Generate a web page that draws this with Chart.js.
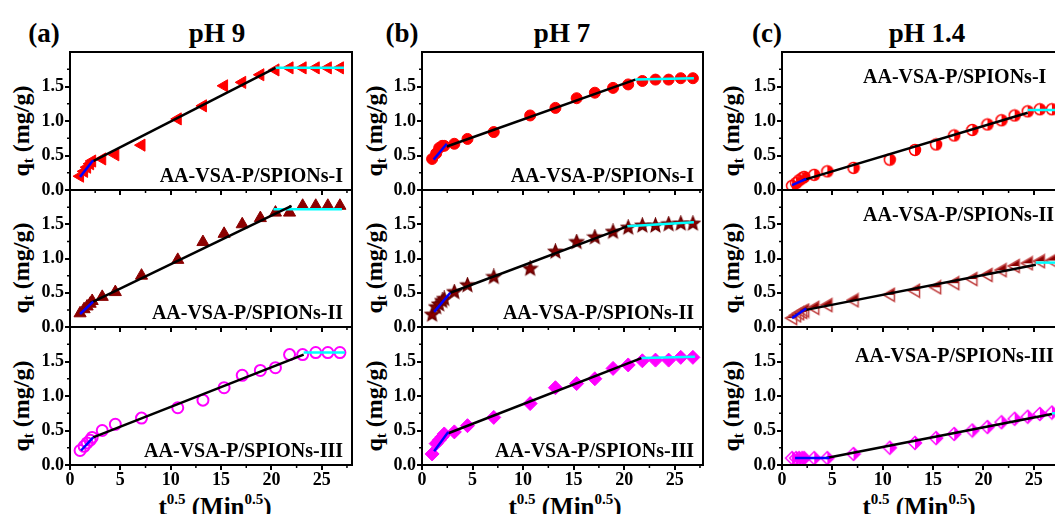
<!DOCTYPE html>
<html>
<head>
<meta charset="utf-8">
<script src="https://cdn.jsdelivr.net/npm/chart.js@4.4.0/dist/chart.umd.min.js"></script>
<style>
  html, body { margin: 0; padding: 0; background: #fff; }
  body { width: 1055px; height: 514px; overflow: hidden; position: relative; }
  canvas { position: absolute; }
  .t { position: absolute; font-family: "Liberation Serif", "Times New Roman", serif; font-weight: bold;
       color: #000; white-space: nowrap; }
  .title { font-size: 27px; line-height: 27px; top: 20px; transform: translateX(-50%); }
  .lab { font-size: 20px; line-height: 20px; }
  .ytitle { font-size: 24px; line-height: 24px; transform: translate(-50%, -50%) rotate(-90deg); }
  .ytitle sub { font-size: 15px; line-height: 0; vertical-align: -4px; }
  .xtitle { font-size: 25px; line-height: 25px; top: 494px; transform: translateX(-50%); }
  .xtitle sup { font-size: 15px; line-height: 0; vertical-align: 11px; }
</style>
</head>
<body>

<div class="t title" style="left:44px">(a)</div>
<div class="t title" style="left:217px">pH 9</div>
<div class="t title" style="left:402px">(b)</div>
<div class="t title" style="left:562px">pH 7</div>
<div class="t title" style="left:767px">(c)</div>
<div class="t title" style="left:927px">pH 1.4</div>

<div class="t ytitle" style="left:21px;top:131px">q<sub>t</sub> (mg/g)</div>
<div class="t ytitle" style="left:21px;top:268px">q<sub>t</sub> (mg/g)</div>
<div class="t ytitle" style="left:21px;top:406px">q<sub>t</sub> (mg/g)</div>
<div class="t ytitle" style="left:374px;top:131px">q<sub>t</sub> (mg/g)</div>
<div class="t ytitle" style="left:374px;top:268px">q<sub>t</sub> (mg/g)</div>
<div class="t ytitle" style="left:374px;top:406px">q<sub>t</sub> (mg/g)</div>
<div class="t ytitle" style="left:731px;top:131px">q<sub>t</sub> (mg/g)</div>
<div class="t ytitle" style="left:731px;top:268px">q<sub>t</sub> (mg/g)</div>
<div class="t ytitle" style="left:731px;top:406px">q<sub>t</sub> (mg/g)</div>

<div class="t xtitle" style="left:215px">t<sup>0.5</sup> (Min<sup>0.5</sup>)</div>
<div class="t xtitle" style="left:565px">t<sup>0.5</sup> (Min<sup>0.5</sup>)</div>
<div class="t xtitle" style="left:919px">t<sup>0.5</sup> (Min<sup>0.5</sup>)</div>

<script>
// square root of contact time, same sampling for every run
const sqrtT = [1.0, 1.4, 1.7, 2.0, 2.2, 3.2, 4.5, 7.1, 10.7, 13.2, 15.3, 17.1, 18.9, 20.4, 21.8, 23.1, 24.4, 25.6, 26.8];

// qt (mg/g) — (a) pH 9
const qA1 = [0.20, 0.27, 0.33, 0.38, 0.42, 0.45, 0.51, 0.65, 1.03, 1.22, 1.51, 1.56, 1.67, 1.74, 1.77, 1.77, 1.77, 1.77, 1.77];
const qA2 = [0.20, 0.26, 0.30, 0.34, 0.38, 0.44, 0.51, 0.75, 0.98, 1.24, 1.36, 1.50, 1.59, 1.67, 1.67, 1.77, 1.77, 1.77, 1.77];
const qA3 = [0.21, 0.27, 0.32, 0.36, 0.40, 0.50, 0.59, 0.68, 0.83, 0.94, 1.12, 1.30, 1.37, 1.41, 1.60, 1.60, 1.63, 1.63, 1.63];
// (b) pH 7
const qB1 = [0.45, 0.53, 0.61, 0.64, 0.64, 0.67, 0.74, 0.84, 1.08, 1.19, 1.33, 1.41, 1.48, 1.53, 1.58, 1.60, 1.60, 1.62, 1.62];
const qB2 = [0.18, 0.29, 0.33, 0.38, 0.41, 0.51, 0.61, 0.73, 0.85, 1.10, 1.24, 1.31, 1.39, 1.45, 1.48, 1.48, 1.50, 1.51, 1.51];
const qB3 = [0.16, 0.31, 0.36, 0.41, 0.45, 0.48, 0.57, 0.69, 0.89, 1.12, 1.18, 1.25, 1.40, 1.45, 1.51, 1.52, 1.52, 1.56, 1.56];
// (c) pH 1.4
const qC1 = [0.06, 0.10, 0.14, 0.17, 0.19, 0.22, 0.27, 0.32, 0.44, 0.58, 0.66, 0.79, 0.87, 0.95, 1.01, 1.08, 1.14, 1.17, 1.17];
const qC2 = [0.13, 0.17, 0.20, 0.22, 0.24, 0.28, 0.32, 0.39, 0.47, 0.53, 0.58, 0.64, 0.70, 0.76, 0.83, 0.89, 0.93, 0.96, 0.97];
const qC3 = [0.10, 0.10, 0.10, 0.10, 0.10, 0.10, 0.10, 0.16, 0.25, 0.32, 0.39, 0.45, 0.50, 0.55, 0.62, 0.67, 0.70, 0.74, 0.76];

// intra-particle diffusion fits: stage 1 (blue), stage 2 (black), stage 3 (cyan)
const fitA1 = [[[1.0, 0.19], [2.3, 0.43]], [[2.3, 0.42], [20.4, 1.77]], [[20.4, 1.77], [27.2, 1.77]]];
const fitA2 = [[[1.0, 0.19], [2.3, 0.37]], [[2.0, 0.35], [22.0, 1.77]], [[20.2, 1.72], [27.0, 1.72]]];
const fitA3 = [[[1.1, 0.21], [2.3, 0.40]], [[2.3, 0.40], [23.2, 1.60]], [[23.2, 1.63], [27.3, 1.63]]];
const fitB1 = [[[1.15, 0.44], [2.45, 0.67]], [[2.45, 0.63], [21.1, 1.60]], [[21.1, 1.60], [26.9, 1.62]]];
const fitB2 = [[[1.2, 0.22], [2.8, 0.50]], [[2.8, 0.50], [20.3, 1.47]], [[20.3, 1.47], [26.9, 1.53]]];
const fitB3 = [[[1.2, 0.20], [2.6, 0.48]], [[2.6, 0.46], [21.7, 1.55]], [[21.7, 1.55], [27.0, 1.57]]];
const fitC1 = [[[1.0, 0.07], [2.4, 0.16]], [[2.0, 0.14], [24.4, 1.12]], [[24.4, 1.16], [28.0, 1.16]]];
const fitC2 = [[[1.0, 0.13], [2.4, 0.27]], [[2.4, 0.25], [25.2, 0.91]], [[25.2, 0.94], [28.0, 0.94]]];
const fitC3 = [[[1.3, 0.10], [4.7, 0.10]], [[4.4, 0.10], [26.8, 0.74]], [[26.8, 0.75], [28.0, 0.75]]];

const xTicks = [0, 5, 10, 15, 20, 25];
const xMinor = [2.5, 7.5, 12.5, 17.5, 22.5, 27.5];
const yTicks = [0.0, 0.5, 1.0, 1.5];
const yMinor = [0.25, 0.75, 1.25, 1.75];

const sampleNames = ['AA-VSA-P/SPIONs-I', 'AA-VSA-P/SPIONs-II', 'AA-VSA-P/SPIONs-III'];

const FONT = '"Liberation Serif", "Times New Roman", serif';
const YW = 52, PT = 8, PR = 8;
const cols = [
  { left: 70, width: 282, xmax: 28 },
  { left: 422, width: 281, xmax: 27.8 },
  { left: 782, width: 282, xmax: 28 }
];
const rows = [
  { top: 52, h: 138 },
  { top: 190, h: 137 },
  { top: 327, h: 138 }
];

// half filled / star markers drawn on small canvases
function marker(kind, size, fill, stroke) {
  const c = document.createElement('canvas');
  c.width = c.height = size;
  const g = c.getContext('2d');
  const m = size / 2, r = size / 2 - 1.5;
  g.lineWidth = 1.5;
  g.strokeStyle = stroke;
  g.fillStyle = fill;
  g.beginPath();
  if (kind == 'star') {
    for (let i = 0; i < 10; i++) {
      const a = -Math.PI / 2 + i * Math.PI / 5;
      const rr = i % 2 ? r * 0.45 : r;
      g.lineTo(m + rr * Math.cos(a), m + rr * Math.sin(a));
    }
    g.closePath();
    g.fill();
    g.stroke();
  } else if (kind == 'halfCircle') {
    g.arc(m, m, r, -Math.PI / 2, Math.PI / 2);
    g.closePath();
    g.fill();
    g.beginPath();
    g.arc(m, m, r, 0, Math.PI * 2);
    g.stroke();
  } else if (kind == 'halfTri') {
    g.moveTo(m - r, m);
    g.lineTo(m + r * 0.7, m - r);
    g.lineTo(m + r * 0.7, m);
    g.closePath();
    g.fill();
    g.beginPath();
    g.moveTo(m - r, m);
    g.lineTo(m + r * 0.7, m - r);
    g.lineTo(m + r * 0.7, m + r);
    g.closePath();
    g.stroke();
  } else if (kind == 'halfDiamond') {
    g.moveTo(m, m - r);
    g.lineTo(m + r, m);
    g.lineTo(m, m + r);
    g.closePath();
    g.fill();
    g.beginPath();
    g.moveTo(m, m - r);
    g.lineTo(m + r, m);
    g.lineTo(m, m + r);
    g.lineTo(m - r, m);
    g.closePath();
    g.stroke();
  }
  return c;
}

const RED = '#FF0000', DARK = '#8B0000', MAG = '#FF00FF';
const panels = [
  { col: 0, row: 0, q: qA1, fit: fitA1, name: 0, style: { pointStyle: 'triangle', pointRotation: -90, pointRadius: 7, pointBackgroundColor: RED, pointBorderColor: RED } },
  { col: 0, row: 1, q: qA2, fit: fitA2, name: 1, style: { pointStyle: 'triangle', pointRadius: 7, pointBackgroundColor: DARK, pointBorderColor: DARK } },
  { col: 0, row: 2, q: qA3, fit: fitA3, name: 2, style: { pointStyle: 'circle', pointRadius: 5.5, pointBackgroundColor: 'rgba(0,0,0,0)', pointBorderColor: MAG, pointBorderWidth: 2 } },
  { col: 1, row: 0, q: qB1, fit: fitB1, name: 0, style: { pointStyle: 'circle', pointRadius: 5.5, pointBackgroundColor: RED, pointBorderColor: RED } },
  { col: 1, row: 1, q: qB2, fit: fitB2, name: 1, style: { pointStyle: marker('star', 17, DARK, '#6a0000') } },
  { col: 1, row: 2, q: qB3, fit: fitB3, name: 2, style: { pointStyle: 'rectRot', pointRadius: 7, pointBackgroundColor: MAG, pointBorderColor: MAG } },
  { col: 2, row: 0, q: qC1, fit: fitC1, name: 0, style: { pointStyle: marker('halfCircle', 14, RED, RED) } },
  { col: 2, row: 1, q: qC2, fit: fitC2, name: 1, style: { pointStyle: marker('halfTri', 16, DARK, '#C04040') } },
  { col: 2, row: 2, q: qC3, fit: fitC3, name: 2, style: { pointStyle: marker('halfDiamond', 16, MAG, MAG) } }
];

const framePlugin = {
  id: 'frame',
  afterDraw(chart) {
    const ctx = chart.ctx, a = chart.chartArea;
    const x = chart.scales.x, y = chart.scales.y;
    ctx.save();
    ctx.strokeStyle = '#000';
    ctx.lineWidth = 1.5;
    ctx.beginPath();
    xMinor.forEach(v => {
      const px = x.getPixelForValue(v);
      ctx.moveTo(px, a.bottom);
      ctx.lineTo(px, a.bottom + 3);
    });
    yMinor.forEach(v => {
      const py = y.getPixelForValue(v);
      ctx.moveTo(a.left, py);
      ctx.lineTo(a.left - 3, py);
    });
    ctx.stroke();
    ctx.lineWidth = 2;
    ctx.strokeRect(a.left, a.top, a.right - a.left, a.bottom - a.top);
    ctx.restore();
  }
};

const lineColors = ['#0000FF', '#000000', '#00FFFF'];

panels.forEach(p => {
  const col = cols[p.col], row = rows[p.row];
  const bottomRow = p.row == 2;
  const XH = bottomRow ? 34 : 8;
  const cv = document.createElement('canvas');
  cv.width = col.width + YW + PR;
  cv.height = row.h + PT + XH;
  cv.style.left = (col.left - YW) + 'px';
  cv.style.top = (row.top - PT) + 'px';
  document.body.appendChild(cv);

  const datasets = p.fit.map((seg, k) => ({
    data: seg.map(s => ({ x: s[0], y: s[1] })),
    showLine: true,
    borderColor: lineColors[k],
    borderWidth: 2.5,
    pointRadius: 0
  }));
  datasets.push(Object.assign({
    data: sqrtT.map((t, i) => ({ x: t, y: p.q[i] })),
    showLine: false
  }, p.style));

  new Chart(cv.getContext('2d'), {
    type: 'scatter',
    data: { datasets: datasets },
    options: {
      responsive: false,
      animation: false,
      devicePixelRatio: 1,
      layout: { padding: { top: PT, right: PR, left: 0, bottom: 0 } },
      plugins: { legend: { display: false }, tooltip: { enabled: false } },
      scales: {
        x: {
          type: 'linear', min: 0, max: col.xmax,
          afterBuildTicks: s => { s.ticks = xTicks.map(v => ({ value: v })); },
          afterFit: s => { s.height = XH; s.paddingLeft = 0; s.paddingRight = 0; },
          grid: { drawOnChartArea: false, drawTicks: true, tickLength: 5, color: '#000', lineWidth: 2 },
          border: { display: false },
          ticks: {
            display: bottomRow, color: '#000', padding: 0, maxRotation: 0, autoSkip: false,
            font: { family: FONT, size: 18, weight: 'bold' },
            callback: v => String(v)
          }
        },
        y: {
          type: 'linear', min: 0, max: 2.0,
          afterBuildTicks: s => { s.ticks = yTicks.map(v => ({ value: v })); },
          afterFit: s => { s.width = YW; s.paddingTop = 0; s.paddingBottom = 0; },
          grid: { drawOnChartArea: false, drawTicks: true, tickLength: 5, color: '#000', lineWidth: 2 },
          border: { display: false },
          ticks: {
            color: '#000', padding: 1,
            font: { family: FONT, size: 18, weight: 'bold' },
            callback: v => v.toFixed(1)
          }
        }
      }
    },
    plugins: [framePlugin]
  });

  // sample label inside the panel
  const lab = document.createElement('div');
  lab.className = 't lab';
  lab.textContent = sampleNames[p.name];
  if (p.col < 2) {
    lab.style.right = (1055 - col.left - col.width + 9) + 'px';
    lab.style.top = (row.top + row.h - 25) + 'px';
  } else {
    lab.style.left = (p.row == 2 ? 855 : 863) + 'px';
    lab.style.top = (row.top + (p.row == 2 ? 18 : 14)) + 'px';
  }
  document.body.appendChild(lab);
});
</script>
</body>
</html>
